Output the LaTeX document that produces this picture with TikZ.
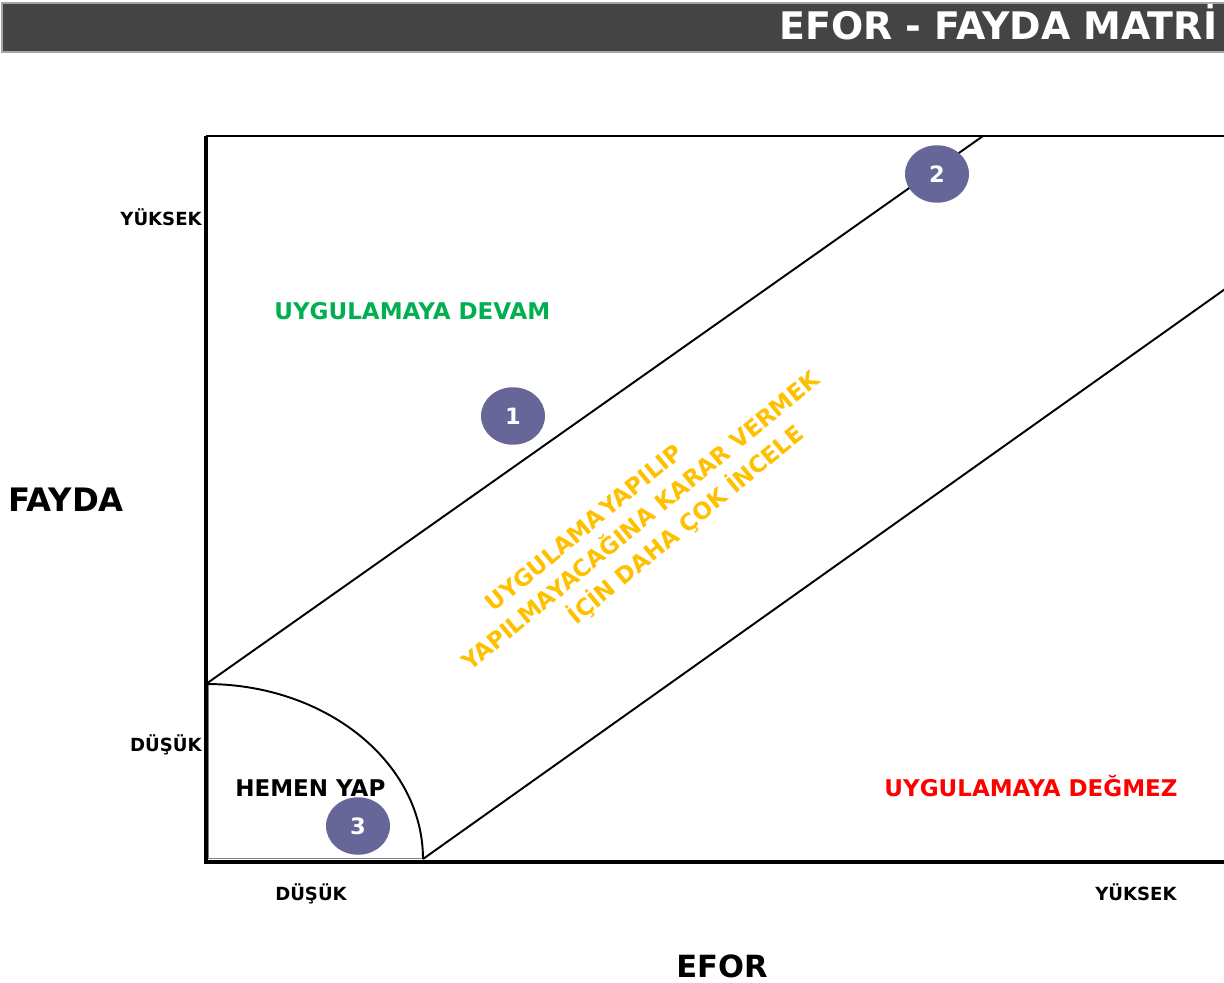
\documentclass[tikz,border=0pt]{standalone}
\usepackage{fontspec}
\setmainfont{DejaVu Sans}
\usetikzlibrary{shapes.geometric}
\definecolor{barcol}{HTML}{444444}
\definecolor{purp}{HTML}{666699}
\definecolor{grn}{HTML}{00B050}
\definecolor{rd}{HTML}{FF0000}
\definecolor{yel}{HTML}{FFC000}
\tikzset{
  lbl/.style={inner sep=0pt, font=\bfseries\fontsize{13.1pt}{15pt}\selectfont},
  tick/.style={inner sep=0pt, font=\bfseries\fontsize{10.3pt}{12pt}\selectfont},
  axis/.style={inner sep=0pt, font=\bfseries\fontsize{17.4pt}{20pt}\selectfont},
  diag/.style={yel, inner sep=0pt, rotate=39.5, anchor=base, font=\bfseries\fontsize{13.1pt}{15pt}\selectfont},
  badge/.style={ellipse, fill=purp, text=white, inner sep=0pt, minimum width=1.28cm, minimum height=1.15cm, font=\bfseries\fontsize{12.8pt}{14pt}\selectfont},
  frame/.style={black, line width=2pt},
  thin/.style={black, line width=1.1pt}
}
\begin{document}
\begin{tikzpicture}[x=0.02cm,y=-0.02cm]
\useasboundingbox (0,0) rectangle (1224,983);
\begin{scope}
\clip (0,0) rectangle (1224,983);
% title bar
\fill[barcol, draw=gray!70, line width=0.6pt] (2,3) rectangle (1240,52);
\node[inner sep=0pt, anchor=base west, text=white, font=\bfseries\fontsize{21.6pt}{25pt}\selectfont] (title) at (779,40) {EFOR - FAYDA MATRİ};
% quarter sector
\draw[gray, line width=0.5pt] (208,858) -- (423,858);
\draw[gray, line width=0.5pt] (208,858) -- (208,684);
\draw[black, line width=1.1pt] (206,684) arc[start angle=90, end angle=0, x radius=217, y radius=-175];
% diagonals
\coordinate (u1) at (206,684);
\coordinate (u2) at (983,136);
\coordinate (l1) at (423,859);
\coordinate (l2) at (1235,282);
\draw[thin] (u1) -- (u2);
\draw[thin] (l1) -- (l2);
% frame
\coordinate (ftr) at (1240,136);
\coordinate (ftl) at (206,136);
\coordinate (fbl) at (206,862);
\coordinate (fbr) at (1240,862);
\draw[black, line width=1.4pt] (ftl) -- (ftr);
\draw[frame] (ftl) -- (fbl) -- (fbr);
\end{scope}
% axis ticks
\node[tick, anchor=base east] (yhigh) at (202,225.5) {YÜKSEK};
\node[tick, anchor=base east] (ylow) at (202,751.5) {DÜŞÜK};
\node[tick, anchor=base] (xlow) at (311,900.5) {DÜŞÜK};
\node[tick, anchor=base] (xhigh) at (1136,900.5) {YÜKSEK};
% axis titles
\node[axis, anchor=base west, font=\bfseries\fontsize{18.4pt}{20pt}\selectfont] (fayda) at (8,511) {FAYDA};
\node[axis, anchor=base] (efor) at (722,977) {EFOR};
% region labels
\node[lbl, anchor=base west, text=grn] (devam) at (274,319) {UYGULAMAYA DEVAM};
\node[lbl, anchor=base west, text=black] (hemen) at (235,796) {HEMEN YAP};
\node[lbl, anchor=base east, text=rd] (degmez) at (1178,796) {UYGULAMAYA DEĞMEZ};
% rotated text
\node[diag] (d1) at (589,534) {UYGULAMA \hspace{-0.22em}YAPILIP};
\node[diag] (d2) at (646,527) {YAPILMAYACAĞINA KARAR VERMEK};
\node[diag] (d3) at (691,531) {İÇİN DAHA ÇOK İNCELE};
% badges
\node[badge] (b1) at (513,416) {1};
\node[badge] (b2) at (937,174) {2};
\node[badge] (b3) at (358,826) {3};
\end{tikzpicture}
\end{document}
